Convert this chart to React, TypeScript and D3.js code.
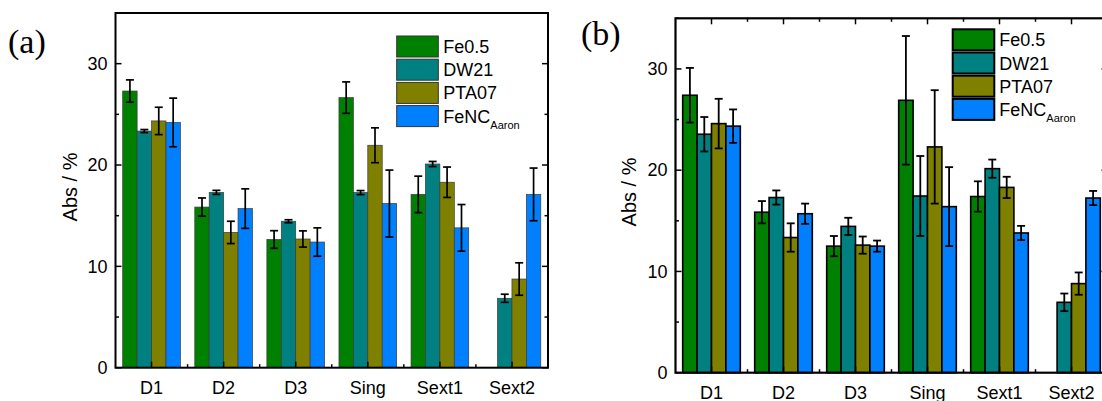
import React from "react";
import * as d3 from "d3";

const categories = ["D1", "D2", "D3", "Sing", "Sext1", "Sext2"];
const seriesNames = ["Fe0.5", "DW21", "PTA07", "FeNC"];
const seriesColors = ["#008000", "#008080", "#808000", "#0080FF"];
const yTicksMajor = [0, 10, 20, 30];
const yTicksMinor = [5, 15, 25, 35];

// Panel (a)
const aFe05 = [27.3, 15.85, 12.65, 26.65, 17.1, null];
const aDW21 = [23.35, 17.3, 14.45, 17.28, 20.1, 6.85];
const aPTA07 = [24.35, 13.35, 12.7, 21.95, 18.3, 8.75];
const aFeNC = [24.2, 15.7, 12.4, 16.2, 13.8, 17.1];
const aFe05Err = [1.1, 0.9, 0.87, 1.55, 1.8, 0];
const aDW21Err = [0.15, 0.2, 0.15, 0.2, 0.25, 0.4];
const aPTA07Err = [1.35, 1.1, 0.8, 1.72, 1.5, 1.6];
const aFeNCErr = [2.4, 1.95, 1.4, 3.3, 2.3, 2.6];

// Panel (b)
const bFe05 = [27.4, 15.85, 12.5, 26.9, 17.4, null];
const bDW21 = [23.55, 17.3, 14.45, 17.45, 20.15, 6.95];
const bPTA07 = [24.6, 13.35, 12.6, 22.3, 18.3, 8.8];
const bFeNC = [24.35, 15.7, 12.5, 16.4, 13.8, 17.25];
const bFe05Err = [2.7, 1.1, 1.0, 6.35, 1.5, 0];
const bDW21Err = [1.7, 0.7, 0.85, 3.95, 0.9, 0.87];
const bPTA07Err = [2.45, 1.4, 0.85, 5.6, 1.05, 1.1];
const bFeNCErr = [1.65, 1.0, 0.55, 3.9, 0.7, 0.7];

const FONT = "Arial, 'Liberation Sans', Helvetica, sans-serif";

type PanelProps = {
  values: (number | null)[][];
  errors: number[][];
  x0: number;
  x1: number;
  yTop: number;
  yBot: number;
  barStroke: string;
  barStrokeWidth: number;
  frameWidth: number;
  errWidth: number;
  topTicks: boolean;
  label: string;
  labelX: number;
  labelY: number;
  legendX: number;
  legendY: number;
  legendStroke: string;
  legendStrokeWidth: number;
  titleX: number;
  titleY: number;
};

function Panel(p: PanelProps) {
  const x = d3.scaleBand<string>().domain(categories).range([p.x0, p.x1]).padding(0);
  const bw = x.bandwidth();
  const inner = d3.scaleBand<string>().domain(seriesNames).range([0.1 * bw, 0.9 * bw]).padding(0);
  const y = d3.scaleLinear().domain([0, 35]).range([p.yBot, p.yTop]);
  const majLen = 6;
  const minLen = 3.5;
  const cap = 4;
  const rowStep = 23.2;
  const boxW = 41.6;
  const boxH = 21;

  return (
    <g>
      {/* bars */}
      {seriesNames.map((s, si) =>
        categories.map((c, ci) => {
          const v = p.values[si][ci];
          if (v == null) return null;
          const bx = (x(c) as number) + (inner(s) as number);
          return (
            <rect
              key={s + c}
              x={bx}
              y={y(v)}
              width={inner.bandwidth()}
              height={y(0) - y(v)}
              fill={seriesColors[si]}
              stroke={p.barStroke}
              strokeWidth={p.barStrokeWidth}
            />
          );
        })
      )}
      {/* error bars */}
      {seriesNames.map((s, si) =>
        categories.map((c, ci) => {
          const v = p.values[si][ci];
          const e = p.errors[si][ci];
          if (v == null || !e) return null;
          const cx = (x(c) as number) + (inner(s) as number) + inner.bandwidth() / 2;
          return (
            <g key={"e" + s + c} stroke="#000" strokeWidth={p.errWidth}>
              <line x1={cx} x2={cx} y1={y(v + e)} y2={y(v - e)} />
              <line x1={cx - cap} x2={cx + cap} y1={y(v + e)} y2={y(v + e)} />
              <line x1={cx - cap} x2={cx + cap} y1={y(v - e)} y2={y(v - e)} />
            </g>
          );
        })
      )}
      {/* frame */}
      <rect
        x={p.x0}
        y={p.yTop}
        width={p.x1 - p.x0}
        height={p.yBot - p.yTop}
        fill="none"
        stroke="#000"
        strokeWidth={p.frameWidth}
      />
      {/* y ticks */}
      {yTicksMajor.map((t) => (
        <g key={"ym" + t} stroke="#000" strokeWidth={1.5}>
          <line x1={p.x0} x2={p.x0 + majLen} y1={y(t)} y2={y(t)} />
          <line x1={p.x1} x2={p.x1 - majLen} y1={y(t)} y2={y(t)} />
        </g>
      ))}
      {yTicksMinor.map((t) => (
        <g key={"yn" + t} stroke="#000" strokeWidth={1.5}>
          <line x1={p.x0} x2={p.x0 + minLen} y1={y(t)} y2={y(t)} />
          <line x1={p.x1} x2={p.x1 - minLen} y1={y(t)} y2={y(t)} />
        </g>
      ))}
      {yTicksMajor.map((t) => (
        <text
          key={"yl" + t}
          x={p.x0 - 8}
          y={y(t)}
          dy="0.35em"
          textAnchor="end"
          fontFamily={FONT}
          fontSize={18}
          fill="#000"
        >
          {t}
        </text>
      ))}
      {/* x ticks */}
      {categories.map((c, ci) => {
        const cx = (x(c) as number) + bw / 2;
        const bx = x(c) as number;
        return (
          <g key={"xt" + c} stroke="#000" strokeWidth={1.5}>
            <line x1={cx} x2={cx} y1={p.yBot} y2={p.yBot - majLen} />
            {ci > 0 && <line x1={bx} x2={bx} y1={p.yBot} y2={p.yBot - minLen} />}
            {p.topTicks && <line x1={cx} x2={cx} y1={p.yTop} y2={p.yTop + majLen} />}
            {p.topTicks && ci > 0 && <line x1={bx} x2={bx} y1={p.yTop} y2={p.yTop + minLen} />}
          </g>
        );
      })}
      {categories.map((c) => (
        <text
          key={"xl" + c}
          x={(x(c) as number) + bw / 2}
          y={p.yBot + 26}
          textAnchor="middle"
          fontFamily={FONT}
          fontSize={18}
          fill="#000"
        >
          {c}
        </text>
      ))}
      {/* axis title */}
      <text
        transform={`translate(${p.titleX},${p.titleY}) rotate(-90)`}
        textAnchor="middle"
        dy="0.35em"
        fontFamily={FONT}
        fontSize={20}
        fill="#000"
      >
        Abs / %
      </text>
      {/* panel label */}
      <text x={p.labelX} y={p.labelY} fontFamily="'Liberation Serif', 'Times New Roman', serif" fontSize={34} fill="#000">
        {p.label}
      </text>
      {/* legend */}
      {seriesNames.map((s, si) => {
        const ry = p.legendY + si * rowStep;
        return (
          <g key={"lg" + s}>
            <rect
              x={p.legendX}
              y={ry}
              width={boxW}
              height={boxH}
              fill={seriesColors[si]}
              stroke={p.legendStroke}
              strokeWidth={p.legendStrokeWidth}
            />
            <text x={p.legendX + boxW + 5} y={ry + boxH / 2 + 6.5} fontFamily={FONT} fontSize={18} fill="#000">
              {s}
              {s === "FeNC" && (
                <tspan fontSize={11} dy={6}>
                  Aaron
                </tspan>
              )}
            </text>
          </g>
        );
      })}
    </g>
  );
}

export default function App() {
  return (
    <svg
      width={1102}
      height={401}
      style={{ position: "absolute", left: 0, top: 0, background: "#fff" }}
    >
      <rect width={1102} height={401} fill="#fff" />
      <Panel
        values={[aFe05, aDW21, aPTA07, aFeNC]}
        errors={[aFe05Err, aDW21Err, aPTA07Err, aFeNCErr]}
        x0={115.5}
        x1={548}
        yTop={13}
        yBot={367.7}
        barStroke="#3a3a3a"
        barStrokeWidth={0.7}
        frameWidth={2}
        errWidth={1.7}
        topTicks={false}
        label="(a)"
        labelX={8}
        labelY={53}
        legendX={396.7}
        legendY={36}
        legendStroke="#333"
        legendStrokeWidth={1}
        titleX={70}
        titleY={187}
      />
      <Panel
        values={[bFe05, bDW21, bPTA07, bFeNC]}
        errors={[bFe05Err, bDW21Err, bPTA07Err, bFeNCErr]}
        x0={675.5}
        x1={1107.5}
        yTop={18.3}
        yBot={372.7}
        barStroke="#000"
        barStrokeWidth={1.6}
        frameWidth={2.2}
        errWidth={1.8}
        topTicks={true}
        label="(b)"
        labelX={581}
        labelY={45}
        legendX={952.7}
        legendY={29.3}
        legendStroke="#000"
        legendStrokeWidth={2}
        titleX={629}
        titleY={192}
      />
    </svg>
  );
}
